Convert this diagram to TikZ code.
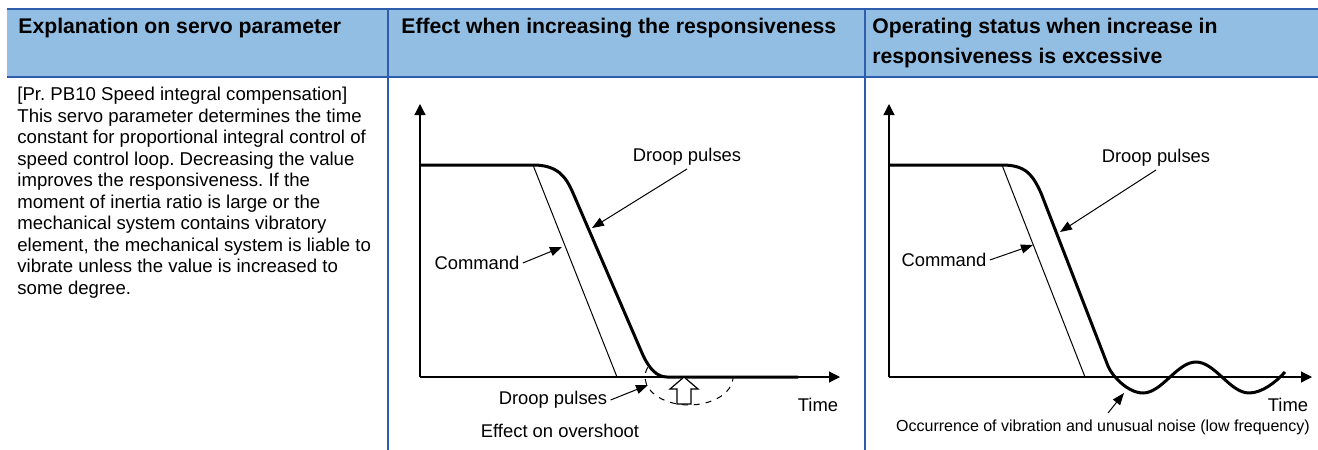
\documentclass[tikz,border=0pt]{standalone}
\usepackage{fontspec}
\setmainfont{Liberation Sans}
\usetikzlibrary{arrows.meta}
\definecolor{hdrblue}{RGB}{147,190,227}
\definecolor{ruleblue}{RGB}{47,93,171}
\newcommand\PxUnit{0.5pt}
\frenchspacing
\tikzset{
  hdr/.style={
    anchor = base west,
    inner sep = 0pt,
    align = left,
    font = \fontsize{10.6}{15}\selectfont\bfseries
  },
  expl/.style={
    anchor = north west,
    inner sep = 0pt,
    align = left,
    font = \fontsize{9.3}{10.75}\selectfont
  },
  lbl/.style={
    inner sep = 1.5pt,
    font = \fontsize{9.2}{11}\selectfont
  },
  note/.style={
    inner sep = 1pt,
    font = \fontsize{8}{10}\selectfont
  },
  resp/.style={
    line width = 1.5pt,
    line join = round
  },
  cmd/.style={
    line width = 0.5pt
  },
  axis/.style={
    line width = 0.6pt,
    -{Triangle[length=5.5pt,width=5.5pt]}
  },
  ptr/.style={
    line width = 0.5pt,
    -{Triangle[length=6pt,width=4.5pt]}
  },
  tablerule/.style={
    ruleblue,
    line width = 1pt
  }
}

\begin{document}
\begin{tikzpicture}[x=\PxUnit, y=-\PxUnit]
\useasboundingbox (0,0) rectangle (1318,450);

% table head
\fill[hdrblue] (7,9) rectangle (1318,77);
\draw[tablerule] (7,9) -- (1318,9);
\draw[tablerule] (7,77) -- (1318,77);
\draw[tablerule] (388,9) -- (388,450);
\draw[tablerule] (865,9) -- (865,450);

\node[hdr] (hExpl) at (18,33) {Explanation on servo parameter};
\node[hdr] (hEffect) at (401,33) {Effect when increasing the responsiveness};
% base anchor sits on the last line here
\node[hdr] (hStatus) at (872,63) {Operating status when increase in\\responsiveness is excessive};

% left column
\node[expl] (pbText) at (17,87) {[Pr. PB10 Speed integral compensation]\\
This servo parameter determines the time\\
constant for proportional integral control of\\
speed control loop. Decreasing the value\\
improves the responsiveness. If the\\
moment of inertia ratio is large or the\\
mechanical system contains vibratory\\
element, the mechanical system is liable to\\
vibrate unless the value is increased to\\
some degree.};

% middle graph
\coordinate (oA) at (420,377);
\draw[axis] (oA) -- (420,104);
\draw[axis] (oA) -- (840,377);

\draw[cmd] (533,165) -- (617,377);
\draw[resp] (oA |- 0,165) -- (533,165)
   .. controls (558,165) and (566,177) .. (573,193)
   -- (642,353)
   .. controls (649,369) and (657,377) .. (667,377)
   -- (798,377);

\draw[dashed, line width=0.5pt] (689,377) ++(200:44 and 28) arc[start angle=200, end angle=0, x radius=44, y radius=28];
\draw[line width=0.6pt, fill=white] (684,377) -- (698,389) -- (691,389) -- (691,404)
   -- (677,404) -- (677,389) -- (670,389) -- cycle;

\node[lbl] (dpA) at (687,157) {Droop pulses};
\node[lbl] (cmdA) at (477,263) {Command};
\node[lbl] (dpLowA) at (553,400) {Droop pulses};
\node[lbl] (effA) at (560,431) {Effect on overshoot};
\node[lbl] (timeA) at (818,405) {Time};

\coordinate (dpTipA) at (592,228);
\coordinate (cmdTipA) at (562,247);
\coordinate (dpLowTipA) at (648,385);
\draw[ptr] (dpA.south) -- (dpTipA);
\draw[ptr] (cmdA.east) -- (cmdTipA);
\draw[ptr] (dpLowA.east) -- (dpLowTipA);

% right graph
\coordinate (oB) at (889,377);
\draw[axis] (oB) -- (889,104);
\draw[axis] (oB) -- (1312,377);

\draw[cmd] (1002,165) -- (1085,377);
\draw[resp] (oB |- 0,165) -- (1002,165)
   .. controls (1027,165) and (1033,176) .. (1041,193)
   -- (1108,366)
   .. controls (1112,376) and (1128,393) .. (1143,393)
   .. controls (1162,393) and (1177,362) .. (1196,362)
   .. controls (1215,362) and (1230,393) .. (1249,393)
   .. controls (1262,393) and (1276,382) .. (1285,372);

\node[lbl] (dpB) at (1156,158) {Droop pulses};
\node[lbl] (cmdB) at (944,260) {Command};
\node[lbl] (timeB) at (1288,405) {Time};
\node[note] (vibB) at (1103,427) {Occurrence of vibration and unusual noise (low frequency)};

\coordinate (dpTipB) at (1060,232);
\coordinate (cmdTipB) at (1033,245);
\coordinate (vibTail) at (1108,413);
\coordinate (vibTip) at (1124,393);
\draw[ptr] (dpB.south) -- (dpTipB);
\draw[ptr] (cmdB.east) -- (cmdTipB);
\draw[ptr] (vibTail) -- (vibTip);
\end{tikzpicture}
\end{document}
